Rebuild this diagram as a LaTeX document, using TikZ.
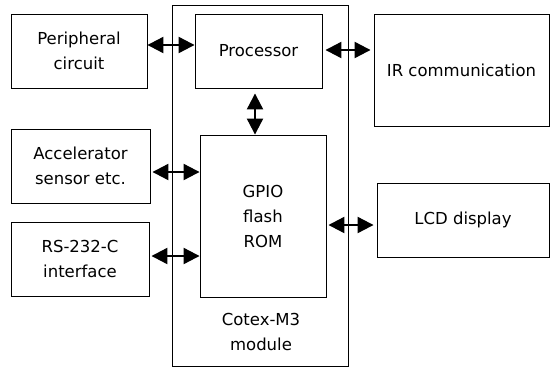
\documentclass[tikz,border=0pt]{standalone}
\usepackage{fontspec}
\setmainfont{DejaVu Sans}
\usetikzlibrary{arrows.meta,positioning,calc}

\begin{document}
\begin{tikzpicture}[x=1pt,y=-1pt,
    every node/.style={align=center,font=\fontsize{16.5}{25}\selectfont},
    unit/.style={draw,line width=0.9pt,inner sep=0pt},
    link/.style={{Triangle[length=16pt,width=16pt]}-{Triangle[length=16pt,width=16pt]},line width=2.2pt}]
      \useasboundingbox (0,0) rectangle (551,367);
      % module frame
      \node[unit,minimum width=176,minimum height=361] (mod) at (260,185.5) {};
      \node (modlbl) at (261,332) {Cotex-M3\\module};
      % inside the module
      \node[unit,minimum width=127,minimum height=74] (proc) at (258.5,51) {Processor};
      \node[unit,minimum width=126,minimum height=162] (gpio) at (263,216) {GPIO\\flash\\ROM};
      % left side
      \node[unit,minimum width=136,minimum height=74] (per) at (79,51) {Peripheral\\circuit};
      \node[unit,minimum width=139,minimum height=74] (acc) at (80.5,166) {Accelerator\\sensor etc.};
      \node[unit,minimum width=138,minimum height=74] (rs) at (80,259) {RS-232-C\\interface};
      % right side
      \node[unit,minimum width=175,minimum height=112] (ir) at (461.5,70) {IR communication};
      \node[unit,minimum width=172,minimum height=74] (lcd) at (463,220) {LCD display};
      \draw[link] ([yshift=6pt]per.east) -- ([yshift=6pt]per.east -| proc.west);
      \draw[link,shorten <=3pt,shorten >=3pt] ([yshift=1pt]proc.east) -- ([yshift=1pt]proc.east -| ir.west);
      \draw[link,shorten <=5pt] ([xshift=-3.5pt]proc.south) -- ([xshift=-3.5pt]proc.south |- gpio.north);
      \draw[link,shorten <=2pt] ([yshift=-6pt]acc.east) -- ([yshift=-6pt]acc.east -| gpio.west);
      \draw[link,shorten <=2pt] ([yshift=3pt]rs.east) -- ([yshift=3pt]rs.east -| gpio.west);
      \draw[link,shorten <=2pt,shorten >=3pt] ([yshift=-5pt]lcd.west -| gpio.east) -- ([yshift=-5pt]lcd.west);
    \end{tikzpicture}
\end{document}
